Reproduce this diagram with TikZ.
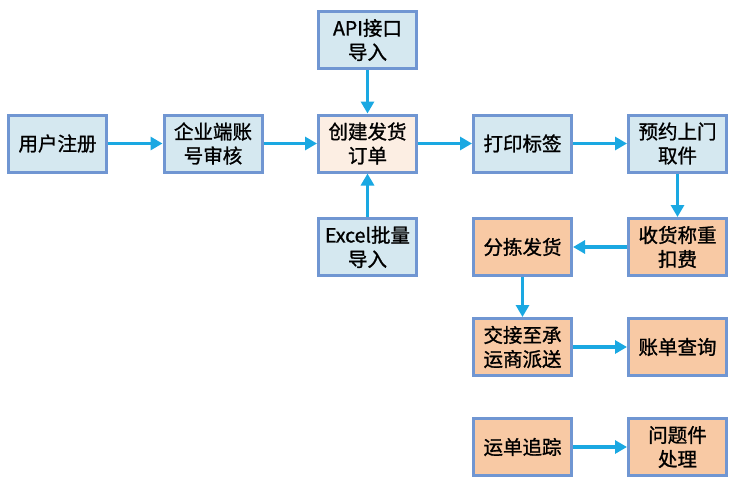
\documentclass[tikz,border=0pt]{standalone}
\usepackage{fontspec}
\setmainfont{Noto Sans CJK SC}[FakeBold=1.2]
\usetikzlibrary{arrows.meta}

\definecolor{boxblue}{HTML}{D5E8F0}
\definecolor{edgeblue}{HTML}{7096D2}
\definecolor{boxpeach}{HTML}{F8C9A4}
\definecolor{boxcream}{HTML}{FCEEE3}
\definecolor{flowcyan}{HTML}{1AA8E2}

\begin{document}
\begin{tikzpicture}[x=1pt, y=-1pt,
  stepnode/.style={draw=edgeblue, line width=3pt, minimum width=98pt,
    minimum height=57pt, inner sep=0pt, align=center,
    font=\fontsize{19.5}{24}\selectfont},
  bluebox/.style={stepnode, fill=boxblue},
  peachbox/.style={stepnode, fill=boxpeach},
  creambox/.style={stepnode, fill=boxcream},
  flow/.style={draw=flowcyan, line width=3.2pt,
    -{Triangle[length=12pt, width=13pt]}}]
  \useasboundingbox (0,0) rectangle (743,490);
  % top row
  \node[bluebox] (reg) at (57.5,143.5) {用户注册};
  \node[bluebox] (audit) at (213,143.5) {企业端账\\号审核};
  \node[creambox] (order) at (367.5,143.5) {创建发货\\订单};
  \node[bluebox] (api) at (367.5,40) {API接口\\导入};
  \node[bluebox] (excel) at (367.5,247) {Excel批量\\导入};
  \node[bluebox] (label) at (522.5,143.5) {打印标签};
  \node[bluebox] (pickup) at (677.5,143.5) {预约上门\\取件};
  % lower part
  \node[peachbox] (weigh) at (677.5,247) {收货称重\\扣费};
  \node[peachbox] (sort) at (522.5,247) {分拣发货};
  \node[peachbox] (carrier) at (522.5,347) {交接至承\\运商派送};
  \node[peachbox] (bill) at (677.5,347) {账单查询};
  \node[peachbox] (track) at (522.5,447) {运单追踪};
  \node[peachbox] (issue) at (677.5,447) {问题件\\处理};
  % connectors
  \draw[flow] (reg) -- (audit);
  \draw[flow] (audit) -- (order);
  \draw[flow] (api) -- (order);
  \draw[flow] (excel) -- (order);
  \draw[flow] (order) -- (label);
  \draw[flow] (label) -- (pickup);
  \draw[flow] (pickup) -- (weigh);
  \draw[flow] (weigh) -- (sort);
  \draw[flow] (sort) -- (carrier);
  \draw[flow] (carrier) -- (bill);
  \draw[flow] (track) -- (issue);
\end{tikzpicture}
\end{document}
